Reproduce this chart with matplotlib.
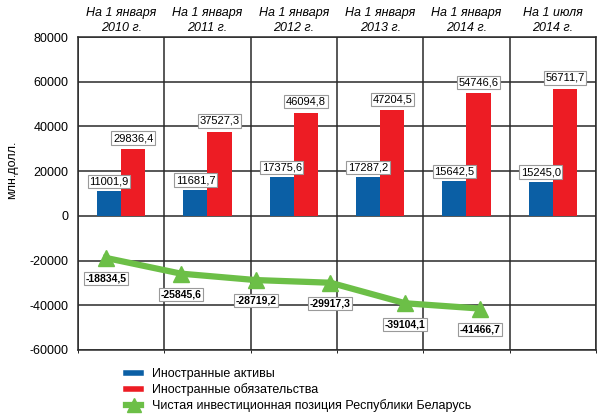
import numpy as np
import matplotlib.pyplot as plt
from matplotlib.lines import Line2D

plt.rcParams['font.family'] = ['Liberation Sans', 'DejaVu Sans']

#%% DATA
periods = ["На 1 января\n2010 г.", "На 1 января\n2011 г.", "На 1 января\n2012 г.",
           "На 1 января\n2013 г.", "На 1 января\n2014 г.", "На 1 июля\n2014 г."]
assets = [11001.9, 11681.7, 17375.6, 17287.2, 15642.5, 15245.0]
liabilities = [29836.4, 37527.3, 46094.8, 47204.5, 54746.6, 56711.7]
net_position = [-18834.5, -25845.6, -28719.2, -29917.3, -39104.1, -41466.7]
series_names = ["Иностранные активы", "Иностранные обязательства",
                "Чистая инвестиционная позиция Республики Беларусь"]

blue = "#0b5fa5"
red = "#ed1c24"
green = "#6cbf47"
gridcol = "#2a2a2a"

def fmt(v): #comma as decimal sign
    return "{:.1f}".format(v).replace(".", ",")

#%% PLOT
fig = plt.figure(figsize=(6.0, 4.16), dpi=100)
ax = fig.add_axes([0.13, 0.1587, 0.8633, 0.7523])

x = np.arange(len(periods))
w = 0.28
ax.bar(x - w/2, assets, width=w, color=blue, zorder=3)
ax.bar(x + w/2, liabilities, width=w, color=red, zorder=3)

box = dict(boxstyle="square,pad=0.15", fc="white", ec="#9a9a9a", lw=0.8)
for i in range(len(periods)):
    ax.annotate(fmt(assets[i]), (x[i] - w/2, assets[i]), xytext=(0, 7), textcoords="offset points",
                ha="center", va="center", fontsize=8, bbox=box, zorder=6)
    ax.annotate(fmt(liabilities[i]), (x[i] + w/2, liabilities[i]), xytext=(0, 8), textcoords="offset points",
                ha="center", va="center", fontsize=8, bbox=box, zorder=6)

ax.set_xlim(-0.5, len(periods) - 0.5)
ax.set_ylim(-60000, 80000)
ax.set_yticks(np.arange(-60000, 80001, 20000))
ax.set_yticklabels([str(int(t)) for t in np.arange(-60000, 80001, 20000)], fontsize=9)
ax.set_xticks(x)
ax.set_xticklabels([])
ax.tick_params(axis="both", length=0, pad=7)
ax.set_xticks(np.arange(-0.5, len(periods), 1), minor=True)
ax.grid(which="minor", axis="x", color=gridcol, lw=1.1, zorder=0)
ax.grid(which="major", axis="y", color=gridcol, lw=1.1, zorder=0)
for s in ax.spines.values():
    s.set_color(gridcol)
    s.set_linewidth(1.1)
ax.set_ylabel("млн.долл.", fontsize=9)
ax.yaxis.set_label_coords(-0.115, 0.575)

for i, p in enumerate(periods):
    ax.text(x[i], 1.01, p, transform=ax.get_xaxis_transform(), ha="center", va="bottom",
            fontsize=9, style="italic", linespacing=1.35)

# net position line sits on its own x scale in the original
ax2 = ax.twiny()
ax2.set_xlim(-0.375, 6.55)
ax2.set_ylim(ax.get_ylim())
ax2.axis("off")
ax2.plot(range(len(net_position)), net_position, color=green, lw=4.5, marker="^",
         markersize=11, zorder=4)
for i, v in enumerate(net_position):
    ax2.annotate(fmt(v), (i, v), xytext=(0, -15), textcoords="offset points", ha="center",
                 va="center", fontsize=7.5, fontweight="bold", bbox=box, zorder=6)

handles = [Line2D([], [], color=blue, lw=4),
           Line2D([], [], color=red, lw=4),
           Line2D([], [], color=green, lw=4.5, marker="^", markersize=10)]
fig.legend(handles, series_names, loc="upper left", bbox_to_anchor=(0.2, 0.13),
           frameon=False, fontsize=9, handlelength=1.2, labelspacing=0.25, handletextpad=0.9,
           borderpad=0)

plt.savefig("out.png", dpi=100)
